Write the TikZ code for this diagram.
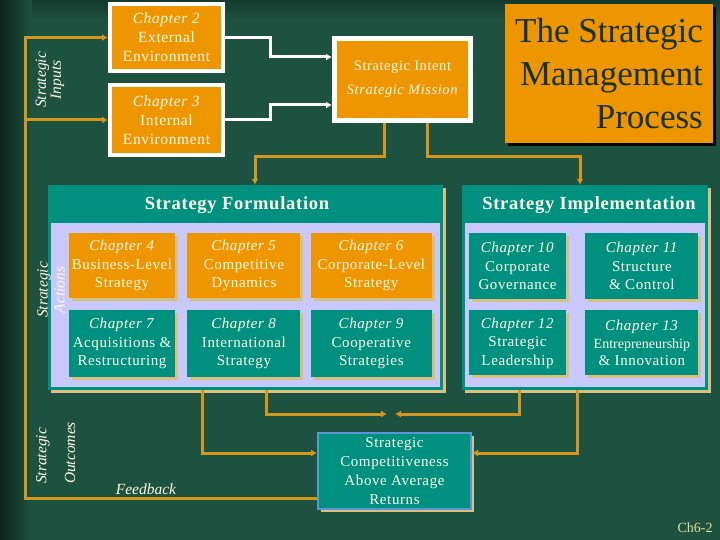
\documentclass[tikz,border=0pt]{standalone}
\usepackage{fontspec}
\setmainfont{Liberation Serif}
\newfontfamily\slidefont[LetterSpace=4]{Liberation Serif}
\usetikzlibrary{positioning,arrows.meta,shadows,calc}

\definecolor{bggreen}{RGB}{30,82,64}
\definecolor{bgdark}{RGB}{12,36,28}
\definecolor{orng}{RGB}{238,150,0}
\definecolor{tealc}{RGB}{0,144,128}
\definecolor{lav}{RGB}{200,200,250}
\definecolor{tanS}{RGB}{216,192,128}
\definecolor{lineor}{RGB}{212,150,30}
\definecolor{cream}{RGB}{255,250,232}
\definecolor{ttlgreen}{RGB}{24,50,34}
\definecolor{compblue}{RGB}{90,150,215}
\definecolor{footc}{RGB}{232,222,150}

\tikzset{
  chapbox/.style={rectangle, inner sep=1pt, align=center, text=cream,
    font=\slidefont\fontsize{15}{18.5}\selectfont,
    drop shadow={shadow xshift=3pt, shadow yshift=-3pt, fill=tanS, opacity=1}},
  orbox/.style={chapbox, fill=orng},
  tlbox/.style={chapbox, fill=tealc},
  inbox/.style={rectangle, fill=orng, draw=white, line width=4pt, inner sep=1pt,
    align=center, text=cream, font=\slidefont\fontsize{15.5}{19}\selectfont},
  panel/.style={rectangle, fill=tealc, inner sep=0pt,
    drop shadow={shadow xshift=3pt, shadow yshift=-3pt, fill=tanS, opacity=1}},
  hdr/.style={text=cream, font=\slidefont\fontsize{18.5}{20}\selectfont\bfseries},
  sidelbl/.style={rotate=90, text=cream, align=center, font=\fontsize{15.5}{15}\selectfont\itshape},
  conn/.style={draw=lineor, line width=3pt, -{Latex[length=6pt,width=7pt]}},
  wconn/.style={draw=white, line width=3pt, -{Latex[length=6pt,width=7pt]}},
  ttext/.style={align=right, font=\fontsize{35}{43}\selectfont},
}

\begin{document}
\begin{tikzpicture}[x=1pt, y=-1pt]
  % background
  \useasboundingbox (0,0) rectangle (720,540);
  \fill[bggreen] (0,0) rectangle (720,540);
  \shade[left color=bgdark, right color=bggreen] (0,0) rectangle (32,540);
  \shade[top color=bgdark, bottom color=bggreen, opacity=0.5] (32,0) rectangle (720,20);

  % strategic inputs
  \node[inbox, minimum width=113pt, minimum height=67pt] (ch2) at (166.5,37.5)
    {\textit{Chapter 2}\\External\\Environment};
  \node[inbox, minimum width=113pt, minimum height=70pt] (ch3) at (166.5,120)
    {\textit{Chapter 3}\\Internal\\Environment};
  \node[inbox, line width=5pt, minimum width=136pt, minimum height=82pt,
    font=\slidefont\fontsize{14.5}{24}\selectfont] (intent) at (402.5,79.5)
    {Strategic Intent\\\textit{Strategic Mission}};

  % title
  \node[rectangle, fill=orng, minimum width=208pt, minimum height=139pt,
    drop shadow={shadow xshift=3pt, shadow yshift=-3pt, fill=black, opacity=1},
    ttext, text=ttlgreen] (title) at (609,73.5)
    {The Strategic\\Management\\Process};

  % formulation and implementation panels
  \node[panel, minimum width=395pt, minimum height=205pt] (form) at (245.5,287.5) {};
  \fill[lav] (51,223) rectangle (440,387);
  \node[hdr] (formT) at (237,205) {Strategy Formulation};
  \node[panel, minimum width=246pt, minimum height=205pt] (impl) at (585,287.5) {};
  \fill[lav] (465,223) rectangle (705,387);
  \node[hdr] (implT) at (589,205) {Strategy Implementation};

  % chapters 4-9
  \node[orbox, minimum width=106pt, minimum height=65pt] (ch4) at (122,265.5)
    {\textit{Chapter 4}\\Business-Level\\Strategy};
  \node[orbox, minimum width=113pt, minimum height=65pt, right=12pt of ch4] (ch5)
    {\textit{Chapter 5}\\Competitive\\Dynamics};
  \node[orbox, minimum width=121pt, minimum height=65pt, right=10pt of ch5] (ch6)
    {\textit{Chapter 6}\\Corporate-Level\\Strategy};
  \node[tlbox, minimum width=106pt, minimum height=67pt, below=12pt of ch4] (ch7)
    {\textit{Chapter 7}\\Acquisitions \&\\Restructuring};
  \node[tlbox, minimum width=113pt, minimum height=67pt, below=12pt of ch5] (ch8)
    {\textit{Chapter 8}\\International\\Strategy};
  \node[tlbox, minimum width=121pt, minimum height=67pt, below=12pt of ch6] (ch9)
    {\textit{Chapter 9}\\Cooperative\\Strategies};

  % chapters 10-13
  \node[tlbox, minimum width=97pt, minimum height=66pt] (ch10) at (517.5,266)
    {\textit{Chapter 10}\\Corporate\\Governance};
  \node[tlbox, minimum width=113pt, minimum height=66pt, right=19pt of ch10] (ch11)
    {\textit{Chapter 11}\\Structure\\\& Control};
  \node[tlbox, minimum width=97pt, minimum height=65pt, below=11pt of ch10] (ch12)
    {\textit{Chapter 12}\\Strategic\\Leadership};
  \node[tlbox, minimum width=113pt, minimum height=65pt, below=11pt of ch11,
    font=\slidefont\fontsize{15}{17.5}\selectfont] (ch13)
    {\textit{Chapter 13}\\{\rmfamily\fontsize{14}{17.5}\selectfont Entrepreneurship}\\\& Innovation};

  % outcomes
  \node[rectangle, fill=tealc, draw=compblue, line width=2pt, minimum width=153pt,
    minimum height=76pt, inner sep=1pt, align=center, text=cream,
    font=\slidefont\fontsize{15}{19}\selectfont,
    drop shadow={shadow xshift=3pt, shadow yshift=-3pt, fill=tanS, opacity=1}]
    (comp) at (394.5,471)
    {Strategic\\Competitiveness\\Above Average\\Returns};

  % side labels
  \node[sidelbl] (lblIn) at (50,80) {Strategic\\Inputs};
  \node[sidelbl, font=\fontsize{15.5}{17}\selectfont\itshape] (lblAct) at (51,290) {Strategic\\Actions};
  \node[sidelbl] (lblOut1) at (43,456) {Strategic};
  \node[sidelbl] (lblOut2) at (70,453) {Outcomes};
  \node[text=cream, font=\fontsize{15.5}{16}\selectfont\itshape] (fbT) at (146,489) {Feedback};
  \node[text=footc, font=\fontsize{14}{15}\selectfont] (foot) at (695,528) {Ch6-2};

  % connectors
  \draw[wconn] (ch2.east) -- ++(45,0) |- ([yshift=22.5]intent.west);
  \draw[wconn] (ch3.east) -- ++(45,0) |- ([yshift=-25.5]intent.west);
  \draw[conn] ([xshift=-18.5]intent.south) -- ++(0,34) -| ([xshift=9.5]form.north);
  \draw[conn] ([xshift=24.5]intent.south) -- ++(0,34) -| ([xshift=-5]impl.north);

  \coordinate (meetL) at (387,414);
  \coordinate (meetR) at (395,414);
  \draw[conn] ([xshift=-43.5]form.south) |- ([yshift=18]comp.west);
  \draw[conn] ([xshift=20.5]form.south) |- (meetL);
  \draw[conn] ([xshift=-66]impl.south) |- (meetR);
  \draw[conn] ([xshift=-8]impl.south) |- ([yshift=18]comp.east);

  \coordinate (fb) at (25,498);
  \draw[conn] (comp.west |- fb) -- (fb) |- (ch2.west);
  \draw[conn] (fb |- ch3.west) -- (ch3.west);
\end{tikzpicture}
\end{document}
